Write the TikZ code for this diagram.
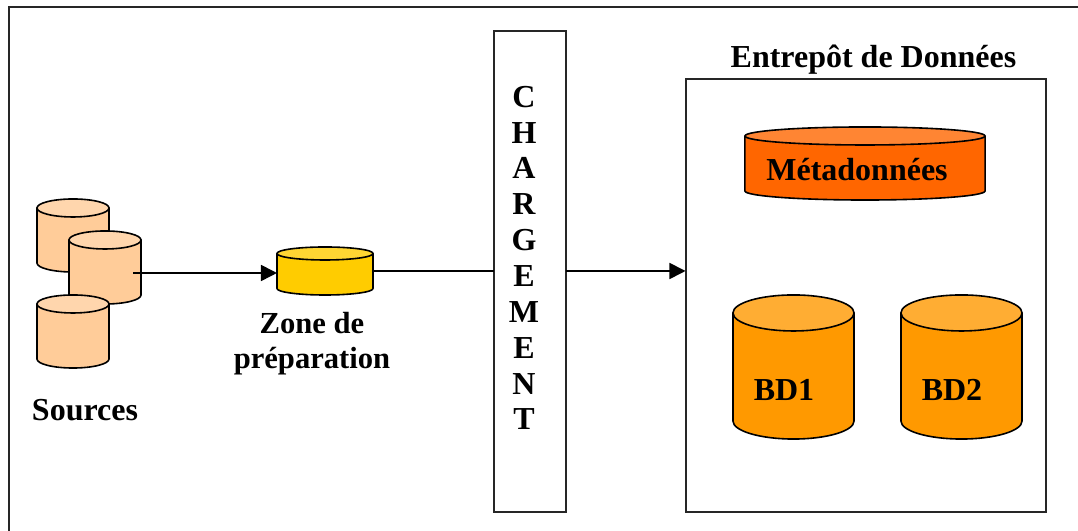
\documentclass[tikz,border=0pt]{standalone}
\usepackage{fontspec}
\usepackage{tikz}
\usetikzlibrary{arrows.meta}
\setmainfont{Liberation Serif}

\definecolor{srcbody}{HTML}{FFCC99}
\definecolor{srctop}{HTML}{FFD6AD}
\definecolor{prepbody}{HTML}{FFCC00}
\definecolor{preptop}{HTML}{FFD633}
\definecolor{metabody}{HTML}{FF6600}
\definecolor{metatop}{HTML}{FF8533}
\definecolor{bdbody}{HTML}{FF9900}
\definecolor{bdtop}{HTML}{FFAD33}

\tikzset{
  txt/.style={font=\fontsize{9.1}{10}\selectfont\bfseries, align=center, inner sep=0pt},
  box/.style={draw=black!85, line width=0.02cm, fill=white, inner sep=0pt, outer sep=0pt, anchor=north west},
  drumline/.style={draw=black, line width=0.016cm, line join=round},
  link/.style={line width=0.017cm},
  arrow/.style={link, -{Triangle[length=0.16cm, width=0.16cm]}}
}

% name, x, y, width, height, end radius, body colour, top colour
\newcommand{\drum}[8]{
  \node (#1) [inner sep=0pt, outer sep=0pt, minimum width=#4cm, minimum height=#5cm] at (#2, #3) {};
  \draw [drumline, fill=#7] ([yshift=-#6cm]#1.north west) -- ([yshift=#6cm]#1.south west)
    arc [start angle=180, end angle=360, x radius={#4*0.5cm}, y radius=#6cm]
    -- ([yshift=-#6cm]#1.north east) -- cycle;
  \draw [drumline, fill=#8] ([yshift=-#6cm]#1.north) ellipse [x radius={#4*0.5cm}, y radius=#6cm];
}

\begin{document}
\begin{tikzpicture}[x=0.01cm, y=-0.01cm]

\useasboundingbox (0, 0) rectangle (1078, 531);

\node (frame) [box, minimum width=11cm, minimum height=5.6cm] at (9, 7.5) {};
\node (charge) [box, minimum width=0.72cm, minimum height=4.8cm] at (493.5, 31.5) {};
\node (dw) [box, minimum width=3.6cm, minimum height=4.32cm] at (685.5, 79.5) {};

\drum{src1}{73}{235.5}{0.72}{0.73}{0.09}{srcbody}{srctop}
\drum{src2}{105}{267.5}{0.72}{0.73}{0.09}{srcbody}{srctop}
\drum{src3}{73}{331.5}{0.72}{0.73}{0.09}{srcbody}{srctop}
\drum{zone}{325}{271}{0.96}{0.48}{0.065}{prepbody}{preptop}
\drum{metadata}{865}{163.5}{2.4}{0.73}{0.09}{metabody}{metatop}
\drum{bd1}{793.5}{367}{1.21}{1.44}{0.18}{bdbody}{bdtop}
\drum{bd2}{961.5}{367}{1.21}{1.44}{0.18}{bdbody}{bdtop}

\coordinate (out) at (133, 273);

\node (sources) [txt] at (85, 410) {Sources};
\node (zonetxt) [txt, font=\fontsize{8.7}{10}\selectfont\bfseries] at (312, 344) {Zone de\\préparation};
\node (dwtxt) [txt] at (873.5, 60) {Entrepôt de Données};
\node (metatxt) [txt] at (857, 170) {Métadonnées};
\node (bd1txt) [txt] at (784, 390) {BD1};
\node (bd2txt) [txt] at (952, 390) {BD2};
\node (chargetxt) [txt, font=\fontsize{9.1}{10.2}\selectfont\bfseries] at (524, 258) {C\\H\\A\\R\\G\\E\\M\\E\\N\\T};

\draw [arrow] (out) -- (zone.west |- out);
\draw [link] (zone.east) -- (charge.west |- zone.east);
\draw [arrow] (charge.east |- zone.east) -- (dw.west |- zone.east);

\end{tikzpicture}
\end{document}
